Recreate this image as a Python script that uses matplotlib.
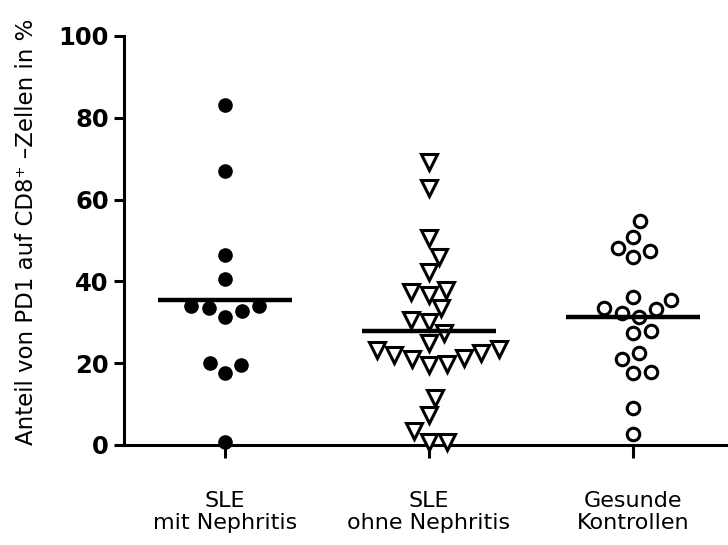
import numpy as np
import matplotlib
matplotlib.use("Agg")
import matplotlib.pyplot as plt

plt.rcParams['font.family'] = ['DejaVu Sans']

groups = ["SLE\nmit Nephritis", "SLE\nohne Nephritis", "Gesunde\nKontrollen"]
sle_nephritis = [83.1, 67.1, 46.5, 40.6, 34.0, 33.5, 31.3, 32.8, 34.0,
                 19.6, 17.6, 20.0, 0.7]
sle_ohne = [69.3, 62.8, 50.5, 46.0, 42.4, 37.5, 36.7, 37.9, 33.4, 30.1,
            30.6, 27.3, 24.9, 23.2, 22.0, 21.0, 19.6, 19.8, 21.2, 22.6,
            23.4, 11.4, 7.3, 3.3, 0.8, 0.8]
kontrollen = [54.8, 50.8, 48.2, 45.9, 47.5, 35.5, 36.3, 33.2, 31.4, 32.2,
              33.4, 27.3, 27.9, 22.6, 21.0, 17.5, 17.9, 9.0, 2.6]
yticks = [0, 20, 40, 60, 80, 100]

fig = plt.figure(figsize=(7.28, 5.45), dpi=100)
ax = fig.add_axes([0.1703, 0.1835, 0.8297, 0.7505])
ax.set_xlim(-0.495, 2.466)
ax.set_ylim(0, 100)


def swarm_offsets(values, pos, d=18.0):
    # einfache Beeswarm-Anordnung in Pixeln
    pts = ax.transData.transform(np.column_stack([np.full(len(values), pos), values]))
    ys = pts[:, 1]
    xc = pts[0, 0]
    xs = np.zeros(len(values))
    placed = []
    for i in np.argsort(ys):
        y = ys[i]
        cands = [0.0]
        for px, py in placed:
            dy = y - py
            if abs(dy) < d:
                dx = np.sqrt(d * d - dy * dy)
                cands += [px + dx, px - dx]
        cands.sort(key=abs)
        for c in cands:
            if all((c - px) ** 2 + (y - py) ** 2 >= d * d - 1e-6 for px, py in placed):
                xs[i] = c
                placed.append((c, y))
                break
    back = ax.transData.inverted().transform(np.column_stack([xs + xc, ys]))
    return back[:, 0]


series = [sle_nephritis, sle_ohne, kontrollen]
styles = [dict(marker='o', ms=9.5, mfc='black', mec='black', mew=1.0),
          dict(marker='v', ms=11, mfc='white', mec='black', mew=2.2),
          dict(marker='o', ms=9.0, mfc='white', mec='black', mew=2.2)]

for i, (vals, st) in enumerate(zip(series, styles)):
    xs = swarm_offsets(vals, i)
    ax.plot(xs, vals, linestyle='none', clip_on=False, zorder=3, **st)
    m = np.mean(vals)
    ax.plot([i - 0.33, i + 0.33], [m, m], color='black', lw=3.2,
            solid_capstyle='butt', zorder=4)

for side in ['top', 'right']:
    ax.spines[side].set_visible(False)
for side in ['left', 'bottom']:
    ax.spines[side].set_linewidth(2.2)
    ax.spines[side].set_zorder(2)

ax.set_yticks(yticks)
ax.set_yticklabels([str(t) for t in yticks], fontsize=17.5, fontweight='bold')
ax.tick_params(axis='y', length=7, width=2.2, pad=4)
ax.set_xticks(range(len(groups)))
ax.set_xticklabels(groups, fontsize=16, linespacing=1.15)
ax.tick_params(axis='x', length=9, width=2.2, pad=24)

ax.set_ylabel("Anteil von PD1 auf CD8\u207a \u2013Zellen in %", fontsize=16.5)
ax.yaxis.set_label_coords(-0.143, 0.52)

fig.savefig("out.png", dpi=100)
